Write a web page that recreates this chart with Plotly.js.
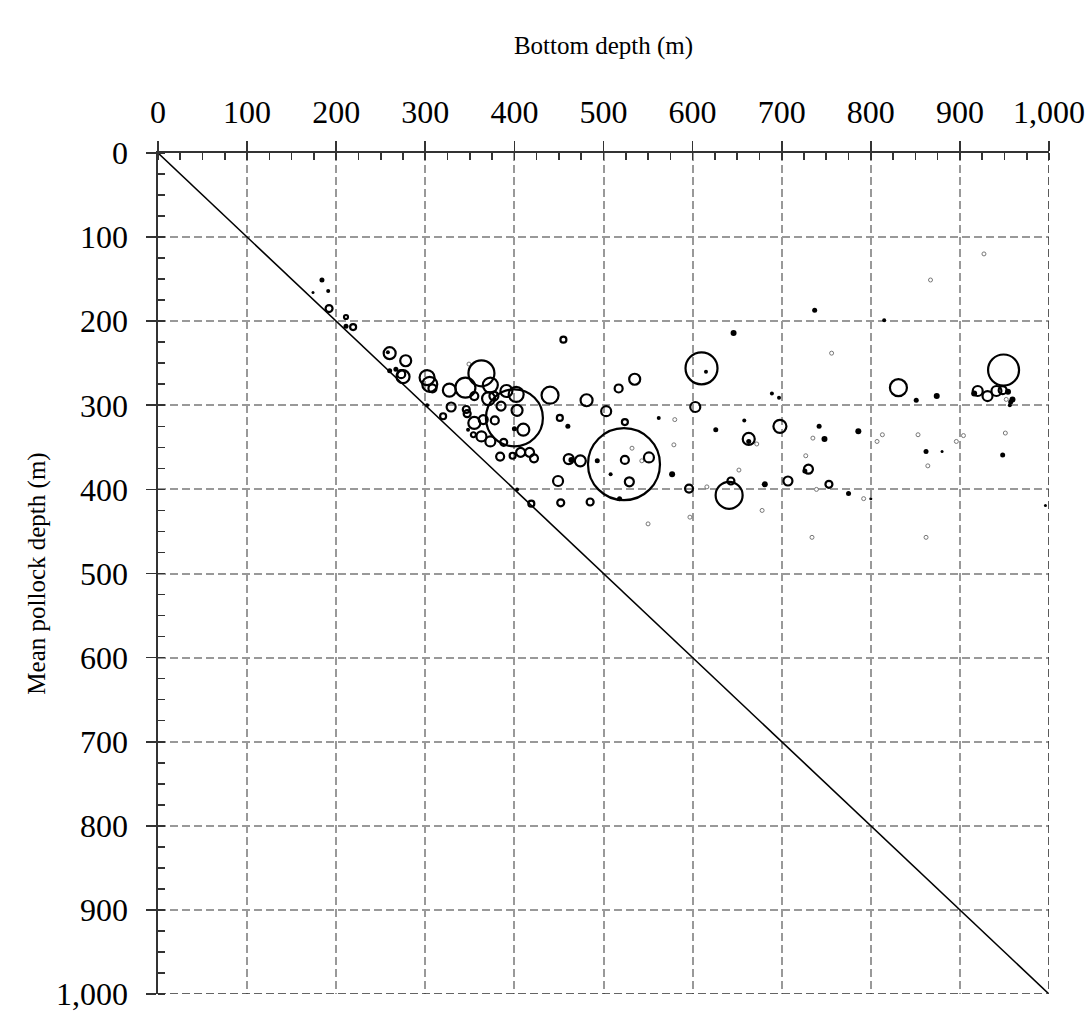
<!DOCTYPE html>
<html>
<head>
<meta charset="utf-8">
<script src="https://cdn.plot.ly/plotly-3.0.1.min.js"></script>
<style>html,body{margin:0;padding:0;background:#fff;}#chart{width:1092px;height:1014px;}</style>
</head>
<body>
<div id="chart"></div>
<script>
// Open bubbles: bottom depth, mean pollock depth, relative bubble value
const openBottom = [192,211,219,260,278,275,273,302,305,308,327,345,355,363,373,371,377,391,402,440,400,385,403,378,410,329,346,347,320,355,365,354,363,373,388,384,398,407,417,422,451,455,610,481,517,535,503,524,603,663,698,523,461,474,524,551,529,449,596,641,643,707,730,753,831,949,920,931,941,948,452,485,419];
const openPollock = [185,195,207,238,247,266,263,267,275,280,282,279,289,262,276,292,289,283,287,288,315,301,306,318,329,302,305,310,313,321,317,335,337,343,344,361,360,356,356,363,315,222,256,294,280,269,307,320,302,340,325,370,364,366,365,362,391,390,399,407,390,390,376,394,279,258,283,289,283,282,416,415,417];
const openValue = [7,4,6,12,11,13,8,15,15,8,13,20,8,26,15,13,9,12,15,17,57,9,11,8,12,9,7,7,6,12,9,5,10,10,7,8,6,9,9,8,6,6,32,12,8,11,10,6,10,12,13,72,10,11,8,10,9,10,8,27,7,9,9,7,17,31,10,10,10,8,7,7,6];

// Small solid points
const dotBottom = [184,174,191,211,258,260,267,302,400,348,460,562,646,615,689,697,626,658,663,493,464,508,577,681,518,742,748,786,726,775,800,862,880,948,737,815,851,874,916,954,959,956,957,403,996];
const dotPollock = [151,166,164,206,237,259,257,300,328,329,325,315,214,260,286,291,329,318,343,366,365,382,382,394,411,325,340,331,378,405,411,355,355,359,187,199,294,289,286,284,293,300,296,400,419];
const dotValue = [5,3,4,5,4,5,5,4,5,4,5,4,6,4,4,4,5,4,5,5,6,4,6,6,5,5,6,6,5,5,3,5,3,5,5,4,5,6,6,6,6,4,5,4,3];

// Faint tiny points
const faintBottom = [349,580,672,579,532,543,652,616,735,727,739,792,807,813,853,864,896,904,951,756,867,927,952,550,597,678,734,862];
const faintPollock = [251,317,346,347,351,366,377,397,339,360,400,411,343,335,335,372,343,336,333,238,151,120,293,441,433,425,457,457];

// One-to-one reference line
const refLine = [0,1000];

const xTicks = [0,100,200,300,400,500,600,700,800,900,1000];
const xTickText = ['0','100','200','300','400','500','600','700','800','900','1,000'];
const yTicks = xTicks;
const yTickText = xTickText;

const FONT = '"Liberation Serif", "Times New Roman", Times, serif';

const traces = [
  {x: refLine, y: refLine, mode: 'lines', line: {color: '#000', width: 1.6}, hoverinfo: 'skip', showlegend: false},
  {x: faintBottom, y: faintPollock, mode: 'markers', showlegend: false,
   marker: {symbol: 'circle-open', size: 4, opacity: 1, color: '#777', line: {width: 1, color: '#777'}}},
  {x: dotBottom, y: dotPollock, mode: 'markers', showlegend: false,
   marker: {symbol: 'circle', size: dotValue, sizemode: 'diameter', sizeref: 1, opacity: 1, color: '#000', line: {width: 0}}},
  {x: openBottom, y: openPollock, mode: 'markers', showlegend: false,
   marker: {symbol: 'circle-open', size: openValue, sizemode: 'diameter', sizeref: 1, opacity: 1, color: '#000', line: {width: 2.2, color: '#000'}}}
];

const axisCommon = {
  range: [0, 1000], tickvals: xTicks, ticktext: xTickText,
  showgrid: true, gridcolor: '#999', griddash: '8px,4px', gridwidth: 2,
  zeroline: false, showline: true, linecolor: '#333', linewidth: 1.6,
  ticks: 'outside', ticklen: 10, tickwidth: 1.6, tickcolor: '#333',
  minor: {dtick: 25, tick0: 0, ticks: 'inside', ticklen: 7, tickwidth: 1.6, tickcolor: '#333', showgrid: false},
  tickfont: {family: FONT, size: 32, color: '#000'},
  automargin: false, fixedrange: true
};

const layout = {
  width: 1092, height: 1014,
  margin: {l: 158, r: 43, t: 153, b: 20},
  paper_bgcolor: '#fff', plot_bgcolor: '#fff',
  font: {family: FONT, color: '#000'},
  title: {text: 'Bottom depth (m)', font: {family: FONT, size: 25, color: '#000'},
          x: 0.5, xref: 'paper', xanchor: 'center', y: 1 - 45/1014, yref: 'container', yanchor: 'middle'},
  xaxis: Object.assign({}, axisCommon, {side: 'top', ticklabelstandoff: 6}),
  yaxis: Object.assign({}, axisCommon, {range: [1000, 0], tickvals: yTicks, ticktext: yTickText, ticklabelstandoff: 12,
    title: {text: 'Mean pollock depth (m)', font: {family: FONT, size: 25, color: '#000'}, standoff: 3}}),
  shapes: [
    {type: 'line', xref: 'x', yref: 'y', x0: 1000, x1: 1000, y0: 0, y1: 1000, line: {color: '#333', width: 1.6, dash: '8px,4px'}},
    {type: 'line', xref: 'x', yref: 'y', x0: 0, x1: 1000, y0: 1000, y1: 1000, line: {color: '#333', width: 1.6, dash: '8px,4px'}}
  ],
  showlegend: false
};

Plotly.newPlot('chart', traces, layout, {displayModeBar: false, staticPlot: true});
</script>
</body>
</html>
